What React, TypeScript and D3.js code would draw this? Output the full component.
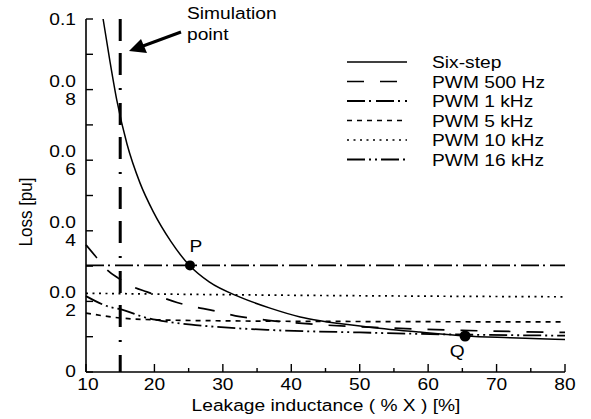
import React from "react";
import * as d3 from "d3";

// ---- data ----
const sixStepX = [12.5, 13.5, 14.5, 16, 17.9, 19.8, 22.4, 25.2, 28, 32.5, 36.9, 41.3, 44.2, 51.5, 58.8, 65.4, 72, 80];
const sixStepY = [0.1, 0.088, 0.077, 0.0645, 0.0535, 0.0455, 0.037, 0.030, 0.0255, 0.0212, 0.0181, 0.0156, 0.0145, 0.0127, 0.0113, 0.0102, 0.0097, 0.0092];

const pwm500X = [10, 11.3, 13.1, 14.7, 16.9, 18.9, 21.3, 23.3, 25.9, 28.1, 32.5, 37.3, 45, 54, 65, 80];
const pwm500Y = [0.036, 0.033, 0.0289, 0.0266, 0.0241, 0.0227, 0.021, 0.0197, 0.0184, 0.0176, 0.0157, 0.0145, 0.0133, 0.0125, 0.0118, 0.0112];

const pwm1kX = [10, 80];
const pwm1kY = [0.0302, 0.0302];

const pwm5kX = [10, 15, 20, 30, 50, 80];
const pwm5kY = [0.0167, 0.0153, 0.0148, 0.0145, 0.0143, 0.0142];

const pwm10kX = [10, 30, 50, 80];
const pwm10kY = [0.0223, 0.0219, 0.0216, 0.0213];

const pwm16kX = [10, 13.5, 15, 18.9, 22, 26, 36.9, 50, 58.8, 80];
const pwm16kY = [0.0215, 0.0184, 0.0178, 0.0153, 0.0142, 0.0133, 0.0119, 0.0112, 0.0108, 0.0103];

const seriesNames = ["Six-step", "PWM 500 Hz", "PWM 1 kHz", "PWM 5 kHz", "PWM 10 kHz", "PWM 16 kHz"];

const xTicksMajor = [10, 20, 30, 40, 50, 60, 70, 80];
const xTicksMinor = [15, 25, 35, 45, 55, 65, 75];
const yTicks = [0, 0.01, 0.02, 0.03, 0.04, 0.05, 0.06, 0.07, 0.08, 0.09, 0.1];
const yTickLabels = ["0", "0.02", "0.04", "0.06", "0.08", "0.1"];
const yTickLabelValues = [0, 0.02, 0.04, 0.06, 0.08, 0.1];

const simulationX = 15;
const pointP = { x: 25.2, y: 0.0302, label: "P" };
const pointQ = { x: 65.4, y: 0.0102, label: "Q" };

// ---- styles ----
const W = 591, H = 419;
const FONT = "'Liberation Sans', Arial, sans-serif";
const FS = 17;
const SX = 1.13;

const dashStyles = ["", "17,16", "18,4,2,5", "5,5", "2,4.5", "18,4,2,4,2,4"];
const lineWidths = [1.5, 1.7, 1.8, 1.7, 1.7, 1.8];

const x = d3.scaleLinear().domain([10, 80]).range([86, 565]);
const y = d3.scaleLinear().domain([0, 0.1]).range([372, 19]);

function T({ x: tx, y: ty, anchor = "start", children, rotate = 0 }: any) {
  return (
    <text
      transform={`translate(${tx},${ty}) rotate(${rotate}) scale(${rotate ? 1 : SX},${rotate ? SX : 1})`}
      textAnchor={anchor}
      fontFamily={FONT}
      fontSize={FS}
      fill="#000"
    >
      {children}
    </text>
  );
}

export default function App() {
  const line = d3
    .line<[number, number]>()
    .x((d) => x(d[0]))
    .y((d) => y(d[1]))
    .curve(d3.curveMonotoneX);

  const series = [
    [sixStepX, sixStepY],
    [pwm500X, pwm500Y],
    [pwm1kX, pwm1kY],
    [pwm5kX, pwm5kY],
    [pwm10kX, pwm10kY],
    [pwm16kX, pwm16kY],
  ].map(([xs, ys]) => xs.map((v, i) => [v, ys[i]] as [number, number]));

  const legendX0 = 347, legendX1 = 407, legendTextX = 432, legendY0 = 62, legendDy = 19.5;

  return (
    <svg width={W} height={H} style={{ position: "absolute", left: 0, top: 0, background: "#fff" }}>
      <rect x={0} y={0} width={W} height={H} fill="#fff" />

      {/* series */}
      {series.map((pts, i) => (
        <path
          key={i}
          d={line(pts) || ""}
          fill="none"
          stroke="#000"
          strokeWidth={lineWidths[i]}
          strokeDasharray={dashStyles[i] || undefined}
        />
      ))}

      {/* simulation line */}
      <line
        x1={x(simulationX)}
        x2={x(simulationX)}
        y1={y(0.1)}
        y2={y(0)}
        stroke="#000"
        strokeWidth={3}
        strokeDasharray="22,12,22,13,2,13"
      />

      {/* axes */}
      <line x1={x(10)} x2={x(10)} y1={y(0.1)} y2={y(0)} stroke="#000" strokeWidth={1.6} />
      <line x1={x(10)} x2={x(80)} y1={y(0)} y2={y(0)} stroke="#000" strokeWidth={1.6} />
      {yTicks.map((t) => (
        <line key={"yt" + t} x1={x(10)} x2={x(10) + 7} y1={y(t)} y2={y(t)} stroke="#000" strokeWidth={1.4} />
      ))}
      {xTicksMajor.map((t) => (
        <line key={"xt" + t} x1={x(t)} x2={x(t)} y1={y(0)} y2={y(0) - 8} stroke="#000" strokeWidth={1.4} />
      ))}
      {xTicksMinor.map((t) => (
        <line key={"xm" + t} x1={x(t)} x2={x(t)} y1={y(0)} y2={y(0) - 4} stroke="#000" strokeWidth={1.4} />
      ))}

      {/* tick labels */}
      {xTicksMajor.map((t) => (
        <T key={"xl" + t} x={x(t) + (t === 10 ? 2 : 0)} y={y(0) + 18} anchor="middle">
          {String(t)}
        </T>
      ))}
      {yTickLabels.map((lab, i) => {
        const yy = y(yTickLabelValues[i]);
        if (lab.length <= 3) {
          return (
            <T key={"yl" + i} x={76} y={i === 0 ? yy + 5 : yy + 6} anchor="end">
              {lab}
            </T>
          );
        }
        return (
          <g key={"yl" + i}>
            <T x={76} y={yy - 3} anchor="end">{lab.slice(0, 3)}</T>
            <T x={76} y={yy + 15} anchor="end">{lab.slice(3)}</T>
          </g>
        );
      })}

      {/* axis titles */}
      <T x={326} y={411} anchor="middle">Leakage inductance ( % X ) [%]</T>
      <T x={32} y={212} anchor="middle" rotate={-90}>Loss [pu]</T>

      {/* points */}
      <circle cx={x(pointP.x)} cy={y(pointP.y)} r={5} fill="#000" />
      <circle cx={x(pointQ.x)} cy={y(pointQ.y)} r={5.5} fill="#000" />
      <T x={x(pointP.x) + 6} y={y(pointP.y) - 13} anchor="middle">{pointP.label}</T>
      <T x={x(pointQ.x) - 8} y={y(pointQ.y) + 21} anchor="middle">{pointQ.label}</T>

      {/* annotation */}
      <T x={187} y={19}>Simulation</T>
      <T x={187} y={40}>point</T>
      <line x1={181} y1={32} x2={143} y2={46} stroke="#000" strokeWidth={3} />
      <path d="M129,51 L141,39 L147,53 Z" fill="#000" />

      {/* legend */}
      {seriesNames.map((name, i) => {
        const ly = legendY0 + i * legendDy;
        return (
          <g key={"lg" + i}>
            <line
              x1={legendX0}
              x2={legendX1}
              y1={ly}
              y2={ly}
              stroke="#000"
              strokeWidth={lineWidths[i]}
              strokeDasharray={dashStyles[i] || undefined}
            />
            <T x={legendTextX} y={ly + 6}>{name}</T>
          </g>
        );
      })}
    </svg>
  );
}
